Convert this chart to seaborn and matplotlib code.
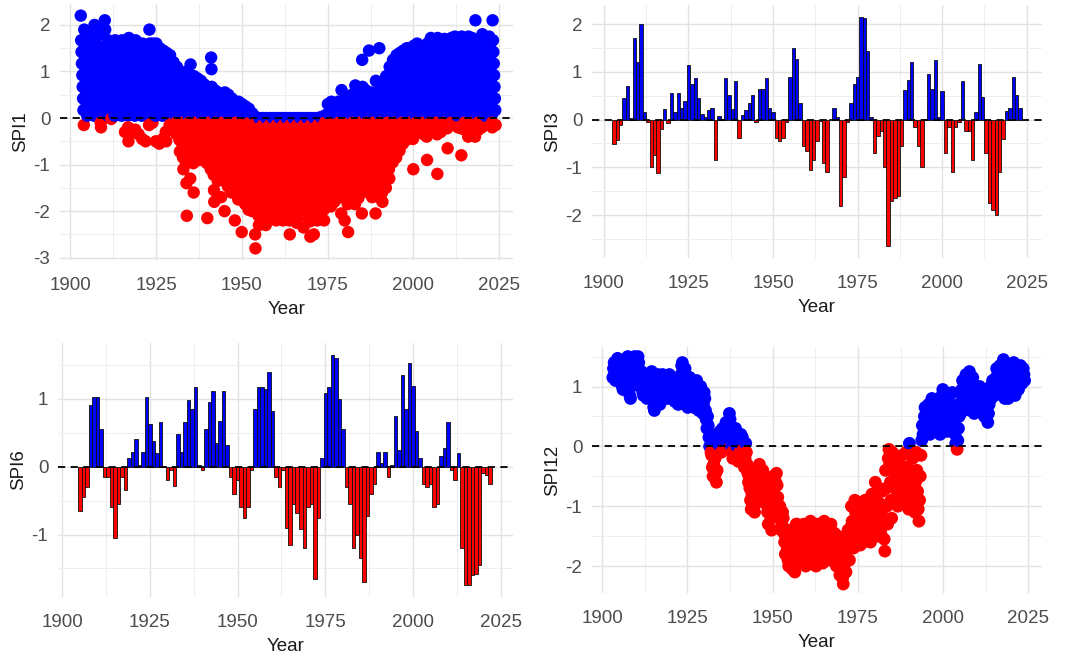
import matplotlib
matplotlib.use("Agg")
import matplotlib.pyplot as plt
from matplotlib.ticker import MultipleLocator
import seaborn as sns
import numpy as np
import pandas as pd

sns.set_theme(style="white")
plt.rcParams['font.family'] = ['Liberation Sans', 'DejaVu Sans']

POS_COL = "#0000ff"
NEG_COL = "#ff0000"

# SPI1: monthly values, grouped by year
spi1 = {
    1903: "2.2 1.67 1.42 1.17 0.92 0.67 0.42 0.17 -0.15",
    1904: "1.9 1.55 1.3 1.05 0.8 0.55 0.3 0.05",
    1905: "1.67 1.42 1.17 0.92 0.67 0.42 0.17",
    1906: "1.8 1.55 1.3 1.05 0.8 0.55 0.3 0.05",
    1907: "2.0 1.67 1.42 1.17 0.92 0.67 0.42 0.17",
    1908: "1.95 1.55 1.3 1.05 0.8 0.55 0.3 0.05 -0.1 -0.2",
    1909: "1.8 1.42 1.17 0.92 0.67 0.42 0.17",
    1910: "2.1 1.9 1.55 1.3 1.05 0.8 0.55 0.3 0.05",
    1911: "1.67 1.42 1.17 0.92 0.67 0.42 0.17 -0.02",
    1912: "1.55 1.3 1.05 0.8 0.55 0.3 0.05",
    1913: "1.67 1.42 1.17 0.92 0.67 0.42 0.17",
    1914: "1.55 1.3 1.05 0.8 0.55 0.3 0.05",
    1915: "1.67 1.42 1.17 0.92 0.67 0.42 0.17 -0.3",
    1916: "1.55 1.3 1.05 0.8 0.55 0.3 0.05 -0.2 -0.5",
    1917: "1.72 1.42 1.17 0.92 0.67 0.42 0.17 -0.3",
    1918: "1.65 1.3 1.05 0.8 0.55 0.3 0.05 -0.25",
    1919: "1.67 1.42 1.17 0.92 0.67 0.42 0.17 -0.35",
    1920: "1.55 1.3 1.05 0.8 0.55 0.3 0.05 -0.45",
    1921: "1.6 1.42 1.17 0.92 0.67 0.42 0.17 -0.5",
    1922: "1.5 1.3 1.05 0.8 0.55 0.3 0.05 -0.15",
    1923: "1.9 1.6 1.42 1.17 0.92 0.67 0.42 0.17 -0.1",
    1924: "1.6 1.3 1.05 0.8 0.55 0.3 0.05 -0.5",
    1925: "1.6 1.42 1.17 0.92 0.67 0.42 0.17 -0.55",
    1926: "1.5 1.3 1.05 0.8 0.55 0.3 0.05 -0.45",
    1927: "1.45 1.17 0.92 0.67 0.42 0.17 -0.3 -0.5",
    1928: "1.4 1.3 1.05 0.8 0.55 0.3 0.05 -0.15",
    1929: "1.35 1.17 0.92 0.67 0.42 0.17 -0.1",
    1930: "1.2 1.05 0.8 0.55 0.3 0.05 -0.1 -0.35",
    1931: "1.1 0.92 0.67 0.42 0.17 -0.22 -0.47 -0.72",
    1932: "1.0 0.8 0.55 0.3 0.05 -0.1 -0.35 -0.6 -0.85 -1.1",
    1933: "0.92 0.67 0.42 0.17 -0.22 -0.47 -0.72 -0.97 -1.4 -2.1",
    1934: "1.0 0.8 0.55 0.3 0.05 -0.1 -0.35 -0.6 -0.85 -1.3",
    1935: "1.15 0.92 0.67 0.42 0.17 -0.22 -0.47 -0.72 -0.97 -1.6",
    1936: "0.9 0.8 0.55 0.3 0.05 -0.1 -0.35 -0.6 -0.85",
    1937: "0.85 0.67 0.42 0.17 -0.22 -0.47 -0.72 -0.9",
    1938: "0.8 0.55 0.3 0.05 -0.1 -0.35 -0.6 -0.85",
    1939: "0.72 0.42 0.17 -0.22 -0.47 -0.72 -0.97 -2.15",
    1940: "0.6 0.3 0.05 -0.1 -0.35 -0.6 -0.85 -1.1",
    1941: "1.3 1.05 0.67 0.42 0.17 -0.22 -0.47 -0.72 -0.97 -1.22 -1.55 -1.8",
    1942: "0.6 0.3 0.05 -0.1 -0.35 -0.6 -0.85 -1.1 -1.35",
    1943: "0.55 0.42 0.17 -0.22 -0.47 -0.72 -0.97 -1.22 -1.7",
    1944: "0.45 0.3 0.05 -0.1 -0.35 -0.6 -0.85 -1.1 -1.35 -2.0",
    1945: "0.55 0.42 0.17 -0.22 -0.47 -0.72 -0.97 -1.22 -1.47",
    1946: "0.5 0.3 0.05 -0.1 -0.35 -0.6 -0.85 -1.1 -1.35 -1.6",
    1947: "0.42 0.17 -0.22 -0.47 -0.72 -0.97 -1.22 -1.47 -2.2",
    1948: "0.3 0.05 -0.1 -0.35 -0.6 -0.85 -1.1 -1.35 -1.6 -1.75",
    1949: "0.35 0.17 -0.22 -0.47 -0.72 -0.97 -1.22 -1.47 -1.72 -2.45",
    1950: "0.3 0.05 -0.1 -0.35 -0.6 -0.85 -1.1 -1.35 -1.6 -1.85",
    1951: "0.25 0.1 -0.22 -0.47 -0.72 -0.97 -1.22 -1.47 -1.72 -1.97",
    1952: "0.2 0.05 -0.1 -0.35 -0.6 -0.85 -1.1 -1.35 -1.6 -1.85 -2.0",
    1953: "0.1 -0.22 -0.47 -0.72 -0.97 -1.22 -1.47 -1.72 -1.97 -2.5 -2.8",
    1954: "0.02 -0.1 -0.35 -0.6 -0.85 -1.1 -1.35 -1.6 -1.85 -2.1 -2.3",
    1955: "0.0 -0.22 -0.47 -0.72 -0.97 -1.22 -1.47 -1.72 -1.97 -2.15",
    1956: "0.0 -0.15 -0.35 -0.6 -0.85 -1.1 -1.35 -1.6 -1.85 -2.1 -2.3",
    1957: "0.0 -0.22 -0.47 -0.72 -0.97 -1.22 -1.47 -1.72 -1.97",
    1958: "0.0 -0.15 -0.35 -0.6 -0.85 -1.1 -1.35 -1.6 -1.85 -2.1",
    1959: "0.0 -0.22 -0.47 -0.72 -0.97 -1.22 -1.47 -1.72 -1.97 -2.2",
    1960: "0.0 -0.15 -0.35 -0.6 -0.85 -1.1 -1.35 -1.6 -1.85 -2.1",
    1961: "0.0 -0.22 -0.47 -0.72 -0.97 -1.22 -1.47 -1.72 -1.97 -2.2",
    1962: "0.0 -0.15 -0.35 -0.6 -0.85 -1.1 -1.35 -1.6 -1.85 -2.1",
    1963: "0.0 -0.22 -0.47 -0.72 -0.97 -1.22 -1.47 -1.72 -1.97 -2.2 -2.5",
    1964: "0.0 -0.15 -0.35 -0.6 -0.85 -1.1 -1.35 -1.6 -1.85 -2.05",
    1965: "0.0 -0.22 -0.47 -0.72 -0.97 -1.22 -1.47 -1.72 -1.97 -2.25",
    1966: "0.0 -0.15 -0.35 -0.6 -0.85 -1.1 -1.35 -1.6 -1.85 -2.1",
    1967: "0.0 -0.22 -0.47 -0.72 -0.97 -1.22 -1.47 -1.72 -1.97 -2.35",
    1968: "0.0 -0.15 -0.35 -0.6 -0.85 -1.1 -1.35 -1.6 -1.85 -2.1",
    1969: "0.0 -0.22 -0.47 -0.72 -0.97 -1.22 -1.47 -1.72 -1.97 -2.22 -2.55",
    1970: "0.0 -0.15 -0.35 -0.6 -0.85 -1.1 -1.35 -1.6 -1.85 -2.1 -2.5",
    1971: "0.0 -0.22 -0.47 -0.72 -0.97 -1.22 -1.47 -1.72 -1.97 -2.2",
    1972: "0.0 -0.15 -0.35 -0.6 -0.85 -1.1 -1.35 -1.6 -1.85 -2.05",
    1973: "0.02 -0.22 -0.47 -0.72 -0.97 -1.22 -1.47 -1.72 -1.97 -2.2",
    1974: "0.05 -0.1 -0.35 -0.6 -0.85 -1.1 -1.35 -1.6 -1.85",
    1975: "0.3 0.1 -0.22 -0.47 -0.72 -0.97 -1.22 -1.47 -1.72 -1.9",
    1976: "0.35 0.05 -0.1 -0.35 -0.6 -0.85 -1.1 -1.35 -1.6 -1.8",
    1977: "0.3 0.12 -0.22 -0.47 -0.72 -0.97 -1.22 -1.47 -1.72",
    1978: "0.35 0.05 -0.1 -0.35 -0.6 -0.85 -1.1 -1.35 -1.6 -2.05",
    1979: "0.6 0.35 0.12 -0.22 -0.47 -0.72 -0.97 -1.22 -1.47 -1.72 -2.2",
    1980: "0.4 0.05 -0.1 -0.35 -0.6 -0.85 -1.1 -1.35 -1.6 -1.85 -2.45",
    1981: "0.3 0.12 -0.22 -0.47 -0.72 -0.97 -1.22 -1.47 -1.72",
    1982: "0.5 0.3 0.05 -0.1 -0.35 -0.6 -0.85 -1.1 -1.35 -1.6 -1.85",
    1983: "0.7 0.42 0.17 -0.22 -0.47 -0.72 -0.97 -1.22 -1.47 -1.72",
    1984: "0.6 0.3 0.05 -0.1 -0.35 -0.6 -0.85 -1.1 -1.35 -1.6 -2.05",
    1985: "1.25 0.67 0.42 0.17 -0.22 -0.47 -0.72 -0.97 -1.22 -1.47",
    1986: "0.6 0.3 0.05 -0.1 -0.35 -0.6 -0.85 -1.1 -1.35 -1.6",
    1987: "1.45 0.5 0.17 -0.22 -0.47 -0.72 -0.97 -1.22 -1.47 -1.7",
    1988: "0.55 0.3 0.05 -0.1 -0.35 -0.6 -0.85 -1.1 -1.35 -1.6 -2.05",
    1989: "0.8 0.42 0.17 -0.22 -0.47 -0.72 -0.97 -1.22 -1.47 -1.7",
    1990: "1.5 0.6 0.3 0.05 -0.1 -0.35 -0.6 -0.85 -1.1 -1.35 -1.6 -1.8",
    1991: "0.72 0.42 0.17 -0.22 -0.47 -0.72 -0.97 -1.22 -1.5",
    1992: "0.9 0.55 0.3 0.05 -0.1 -0.35 -0.6 -0.85 -1.1 -1.3",
    1993: "1.1 0.92 0.67 0.42 0.17 -0.22 -0.47 -0.72 -0.95",
    1994: "1.25 1.05 0.8 0.55 0.3 0.05 -0.1 -0.35 -0.6 -0.85",
    1995: "1.35 1.17 0.92 0.67 0.42 0.17 -0.22 -0.47 -0.7",
    1996: "1.4 1.3 1.05 0.8 0.55 0.3 0.05 -0.1 -0.35 -0.55",
    1997: "1.45 1.17 0.92 0.67 0.42 0.17 -0.22 -0.47",
    1998: "1.5 1.3 1.05 0.8 0.55 0.3 0.05 -0.1 -0.35",
    1999: "1.5 1.42 1.17 0.92 0.67 0.42 0.17 -0.22 -0.45 -1.1",
    2000: "1.55 1.3 1.05 0.8 0.55 0.3 0.05 -0.1 -0.3",
    2001: "1.6 1.42 1.17 0.92 0.67 0.42 0.17 -0.22",
    2002: "1.4 1.3 1.05 0.8 0.55 0.3 0.05 -0.1 -0.35",
    2003: "1.5 1.42 1.17 0.92 0.67 0.42 0.17 -0.22 -0.4 -0.9",
    2004: "1.6 1.3 1.05 0.8 0.55 0.3 0.05 -0.1 -0.3",
    2005: "1.72 1.42 1.17 0.92 0.67 0.42 0.17 -0.22",
    2006: "1.65 1.55 1.3 1.05 0.8 0.55 0.3 0.05 -0.1 -0.35 -1.2",
    2007: "1.72 1.42 1.17 0.92 0.67 0.42 0.17 -0.22 -0.3",
    2008: "1.6 1.55 1.3 1.05 0.8 0.55 0.3 0.05 -0.1",
    2009: "1.7 1.42 1.17 0.92 0.67 0.42 0.17 -0.22 -0.65",
    2010: "1.65 1.55 1.3 1.05 0.8 0.55 0.3 0.05 -0.1",
    2011: "1.72 1.42 1.17 0.92 0.67 0.42 0.17 -0.1",
    2012: "1.75 1.55 1.3 1.05 0.8 0.55 0.3 0.05 -0.2",
    2013: "1.7 1.42 1.17 0.92 0.67 0.42 0.17 -0.22 -0.8",
    2014: "1.75 1.55 1.3 1.05 0.8 0.55 0.3 0.05 -0.1 -0.25",
    2015: "1.72 1.42 1.17 0.92 0.67 0.42 0.17 -0.22 -0.4",
    2016: "1.75 1.55 1.3 1.05 0.8 0.55 0.3 0.05 -0.1 -0.3",
    2017: "1.72 1.42 1.17 0.92 0.67 0.42 0.17 -0.22 -0.4",
    2018: "2.1 1.55 1.3 1.05 0.8 0.55 0.3 0.05 -0.1 -0.25",
    2019: "1.6 1.42 1.17 0.92 0.67 0.42 0.17 -0.2",
    2020: "1.8 1.55 1.3 1.05 0.8 0.55 0.3 0.05",
    2021: "1.72 1.42 1.17 0.92 0.67 0.42 0.17",
    2022: "1.75 1.55 1.3 1.05 0.8 0.55 0.3 0.05 -0.1 -0.2",
    2023: "2.1 1.67 1.42 1.17 0.92 0.67 0.42 0.17 -0.15",
}

# SPI12: values, grouped by year
spi12 = {
    1903: "1.15 1.3 1.4 1.25 1.1", 1904: "1.2 1.35 1.47 1.3 1.15",
    1905: "1.1 1.25 1.35 1.2 1.0", 1906: "0.95 1.1 1.3 1.45 1.3",
    1907: "1.2 1.4 1.5 1.3 1.0", 1908: "0.85 0.8 1.0 1.2 1.35",
    1909: "1.3 1.45 1.5 1.35 1.2", 1910: "1.1 1.3 1.5 1.4 1.2",
    1911: "1.0 1.15 1.25 1.1 0.9", 1912: "0.85 1.0 1.15 1.05 0.9",
    1913: "0.8 0.95 1.1 1.2 1.0", 1914: "0.9 1.05 1.25 1.1 0.8",
    1915: "0.65 0.6 0.8 1.0 1.15", 1916: "1.0 1.2 1.05 0.85 0.7",
    1917: "0.75 0.9 1.05 1.2 1.1", 1918: "0.9 1.05 1.15 1.0 0.85",
    1919: "0.8 0.95 1.1 1.2 1.05", 1920: "0.9 0.8 0.95 1.1 1.0",
    1921: "0.85 0.75 0.9 1.05 0.95", 1922: "0.8 0.7 0.85 1.0 1.1",
    1923: "1.2 1.35 1.4 1.25 1.1", 1924: "1.0 1.3 1.2 0.9 0.7",
    1925: "0.65 0.8 1.0 1.15 1.05", 1926: "0.9 1.05 1.0 0.8 0.65",
    1927: "0.7 0.85 1.0 1.1 0.9", 1928: "0.75 0.6 0.8 0.95 1.0",
    1929: "0.85 0.7 0.55 0.7 0.9", 1930: "0.8 0.6 0.45 0.3 0.5",
    1931: "0.35 0.15 0.0 0.2 -0.1", 1932: "-0.15 -0.35 -0.5 -0.3 0.1",
    1933: "-0.2 -0.45 -0.6 -0.4 0.05", 1934: "0.2 0.1 0.25 0.0 -0.1",
    1935: "0.15 0.3 0.2 -0.05 0.1", 1936: "0.25 0.4 0.3 0.1 -0.05",
    1937: "0.35 0.55 0.45 0.2 0.0", 1938: "-0.1 -0.2 0.1 0.25 0.15",
    1939: "0.3 0.2 0.0 -0.15 -0.25", 1940: "-0.2 -0.1 0.05 0.2 0.1",
    1941: "0.15 -0.05 -0.25 -0.35 -0.2", 1942: "0.05 -0.1 -0.3 -0.45 -0.6",
    1943: "-0.5 -0.7 -0.9 -1.05 -0.8", 1944: "-0.6 -0.8 -1.0 -1.1 -0.9",
    1945: "-0.65 -0.5 -0.4 -0.6 -0.8", 1946: "-0.3 -0.45 -0.6 -0.75 -0.55",
    1947: "-0.4 -0.6 -0.8 -0.95 -0.7", 1948: "-0.65 -0.85 -1.1 -1.3 -1.0",
    1949: "-0.8 -1.0 -1.2 -1.4 -1.1", 1950: "-0.5 -0.7 -0.9 -1.1 -0.6",
    1951: "-0.45 -0.65 -0.85 -1.0 -1.2", 1952: "-1.0 -1.2 -1.4 -1.3 -1.1",
    1953: "-1.2 -1.45 -1.6 -1.8 -1.5", 1954: "-1.5 -1.7 -1.9 -2.0 -1.6",
    1955: "-1.4 -1.6 -1.85 -2.05 -1.7", 1956: "-1.5 -1.8 -2.1 -1.9 -1.3",
    1957: "-1.3 -1.5 -1.7 -1.9 -1.6", 1958: "-1.35 -1.55 -1.75 -1.95 -1.7",
    1959: "-1.3 -1.5 -1.8 -2.0 -1.6", 1960: "-1.4 -1.6 -1.85 -1.7 -1.5",
    1961: "-1.25 -1.45 -1.65 -1.9 -1.7", 1962: "-1.35 -1.55 -1.8 -2.0 -1.6",
    1963: "-1.3 -1.5 -1.7 -1.9 -1.55", 1964: "-1.4 -1.6 -1.8 -1.95 -1.7",
    1965: "-1.25 -1.45 -1.65 -1.85 -1.6", 1966: "-1.35 -1.55 -1.75 -1.9 -1.6",
    1967: "-1.3 -1.5 -1.7 -1.85 -1.65", 1968: "-1.45 -1.65 -1.85 -2.0 -1.7",
    1969: "-1.5 -1.75 -1.95 -2.15 -1.9", 1970: "-1.7 -1.95 -2.2 -2.3 -2.0",
    1971: "-1.6 -1.85 -2.1 -1.9 -1.5", 1972: "-1.4 -1.65 -1.9 -1.7 -1.35",
    1973: "-1.0 -1.25 -1.5 -1.7 -1.3", 1974: "-0.9 -1.1 -1.35 -1.55 -1.2",
    1975: "-0.95 -1.15 -1.4 -1.65 -1.3", 1976: "-1.0 -1.2 -1.45 -1.6 -1.3",
    1977: "-0.9 -1.1 -1.3 -1.5 -1.2", 1978: "-1.0 -1.25 -1.45 -1.6 -1.35",
    1979: "-0.8 -1.0 -1.2 -1.45 -1.1", 1980: "-0.6 -0.8 -1.05 -1.3 -1.5",
    1981: "-0.7 -0.95 -1.2 -1.45 -1.1", 1982: "-0.75 -1.0 -1.3 -1.55 -1.75",
    1983: "-0.4 -0.7 -1.0 -1.3 -0.2", 1984: "-0.05 -0.3 -0.6 -0.9 -1.2",
    1985: "-0.1 -0.35 -0.65 -0.95 -0.5", 1986: "-0.2 -0.45 -0.75 -1.0 -0.3",
    1987: "-0.3 -0.55 -0.8 -0.5 -0.15", 1988: "-0.5 -0.75 -0.95 -0.7 -0.4",
    1989: "-0.1 -0.35 -0.6 -0.85 -1.05", 1990: "0.05 -0.15 -0.4 -0.7 -1.0",
    1991: "-0.2 -0.5 -0.8 -1.1 -0.6", 1992: "-0.1 -0.4 -0.75 -1.05 -1.25",
    1993: "-0.9 -0.5 -0.15 0.1 0.35", 1994: "0.2 0.35 0.5 0.65 0.45",
    1995: "0.25 0.4 0.55 0.7 0.5", 1996: "0.2 0.35 0.5 0.8 0.6",
    1997: "0.25 0.45 0.6 0.75 0.55", 1998: "0.3 0.45 0.65 0.8 0.6",
    1999: "0.2 0.4 0.6 0.85 0.95", 2000: "0.3 0.5 0.7 0.9 0.75",
    2001: "0.25 0.45 0.65 0.85 0.6", 2002: "0.3 0.5 0.7 0.9 0.65",
    2003: "0.6 0.4 0.2 0.05 0.3", 2004: "-0.05 0.1 0.3 0.5 0.6",
    2005: "0.55 0.75 0.95 1.1 0.8", 2006: "0.6 0.8 1.0 1.2 0.9",
    2007: "0.7 0.9 1.1 1.25 1.0", 2008: "0.6 0.8 1.0 1.15 0.85",
    2009: "0.55 0.7 0.85 1.0 0.75", 2010: "0.6 0.75 0.9 1.0 0.8",
    2011: "0.65 0.8 0.95 0.85 0.7", 2012: "0.5 0.65 0.8 0.95 0.7",
    2013: "0.4 0.55 0.7 0.85 1.0", 2014: "0.8 0.95 1.1 1.0 0.85",
    2015: "0.85 1.0 1.15 1.3 1.1", 2016: "0.9 1.05 1.2 1.35 1.15",
    2017: "0.95 1.15 1.3 1.45 1.2", 2018: "0.8 0.95 1.1 1.25 1.0",
    2019: "0.8 0.9 1.05 1.2 1.35", 2020: "1.0 1.15 1.3 1.4 1.2",
    2021: "0.85 1.0 1.15 1.3 1.1", 2022: "0.95 1.1 1.25 1.35 1.2",
    2023: "1.05 1.15 1.3 1.2 1.1",
}

# SPI3 yearly bars
spi3_years = list(range(1903, 2024))
spi3_vals = [
    -0.52, -0.42, -0.12, 0.45, 0.7, 0.03, 1.7, 1.2, 2.0, 0.15,        # 1903-1912
    -0.05, -1.0, -0.75, -1.12, -0.2, 0.22, -0.08, 0.55, 0.15, 0.55,   # 1913-1922
    0.25, 0.38, 1.15, 0.75, 0.88, 0.45, 0.12, 0.05, 0.2, 0.25,        # 1923-1932
    -0.85, 0.08, 0.02, 0.87, 0.52, 0.22, 0.8, -0.38, 0.1, 0.2,        # 1933-1942
    0.35, 0.52, -0.05, 0.65, 0.65, 0.87, 0.25, 0.15, -0.38, -0.45,    # 1943-1952
    -0.38, -0.05, 0.9, 1.5, 1.27, 0.35, -0.55, -0.65, -1.05, -0.85,   # 1953-1962
    -0.45, -0.02, -0.9, -1.1, 0.02, 0.25, 0.05, -1.82, -1.2, -0.05,   # 1963-1972
    0.35, 0.75, 0.9, 2.15, 2.12, 1.43, 0.05, -0.7, -0.35, -0.25,      # 1973-1982
    -1.0, -2.65, -1.7, -1.65, -1.6, -0.55, 0.62, 0.82, 1.2, -0.15,    # 1983-1992
    -0.55, -1.0, 0.02, 0.95, 0.65, 1.25, 0.05, 0.6, -0.7, -0.15,      # 1993-2002
    -1.1, -0.15, -0.05, 0.8, -0.25, -0.25, -0.85, 0.15, 1.17, 0.48,   # 2003-2012
    -0.7, -1.75, -1.9, -2.0, -1.1, -0.4, 0.18, 0.25, 0.9, 0.52,       # 2013-2022
    0.25,                                                             # 2023
]

# SPI6 yearly bars
spi6_years = list(range(1905, 2023))
spi6_vals = [
    -0.65, -0.45, -0.3, 0.9, 1.02, 1.02, 0.55, -0.15, -0.15, -0.6,    # 1905-1914
    -1.05, -0.55, -0.15, -0.35, 0.12, 0.22, 0.4, 0.02, 0.22, 1.03,    # 1915-1924
    0.62, 0.38, 0.2, 0.65, 0.01, -0.2, -0.05, -0.28, 0.48, 0.22,      # 1925-1934
    0.65, 0.98, 0.85, 1.17, 0.02, -0.05, 0.55, 0.95, 1.12, 0.35,      # 1935-1944
    0.67, 1.12, 0.32, -0.15, -0.4, -0.2, -0.6, -0.75, -0.6, -0.05,    # 1945-1954
    0.85, 1.17, 1.17, 1.15, 1.4, 0.82, -0.15, -0.3, -0.05, -0.9,      # 1955-1964
    -1.15, -0.55, -0.68, -0.92, -1.2, -0.6, -0.55, -1.65, -0.75, 0.12,  # 1965-1974
    1.08, 1.17, 1.65, 1.6, 1.0, 0.55, -0.3, -0.55, -1.2, -1.0,        # 1975-1984
    -1.35, -1.7, -0.72, -0.4, -0.25, 0.22, 0.05, 0.22, -0.15, 0.02,   # 1985-1994
    0.75, 0.25, 1.35, 0.85, 1.53, 1.18, 0.52, 0.12, -0.25, -0.3,      # 1995-2004
    -0.25, -0.6, -0.55, 0.15, 0.27, 0.65, -0.05, -0.2, 0.2, -1.2,     # 2005-2014
    -1.75, -1.75, -1.6, -1.58, -1.45, -0.1, -0.12, -0.25,             # 2015-2022
]


def points_frame(by_year):
    rows = []
    for yr, s in by_year.items():
        vals = [float(t) for t in s.split()]
        for i, v in enumerate(vals):
            rows.append((yr + (i + 0.5) / len(vals), v))
    df = pd.DataFrame(rows, columns=["Year", "SPI"])
    df["sign"] = np.where(df["SPI"] >= 0, "pos", "neg")
    return df


def bar_frame(years, vals):
    df = pd.DataFrame({"Year": years, "SPI": vals})
    df["sign"] = np.where(df["SPI"] >= 0, "pos", "neg")
    return df


pal = {"pos": POS_COL, "neg": NEG_COL}


def style(ax, ylabel, xlim, ylim, ymajor):
    ax.set_xlim(*xlim)
    ax.set_ylim(*ylim)
    ax.xaxis.set_major_locator(MultipleLocator(25))
    ax.xaxis.set_minor_locator(MultipleLocator(12.5))
    ax.yaxis.set_major_locator(MultipleLocator(ymajor))
    ax.yaxis.set_minor_locator(MultipleLocator(ymajor / 2))
    ax.grid(which="major", color="#e2e2e2", lw=1.0)
    ax.grid(which="minor", color="#eeeeee", lw=0.7)
    ax.set_axisbelow(True)
    for sp in ax.spines.values():
        sp.set_visible(False)
    ax.tick_params(axis="both", which="both", length=0, labelsize=13.5,
                   labelcolor="#4d4d4d")
    ax.tick_params(axis="x", pad=12)
    ax.tick_params(axis="y", pad=7)
    ax.set_xlabel("Year", fontsize=13.5, color="#1a1a1a", labelpad=5)
    ax.set_ylabel(ylabel, fontsize=13.5, color="#1a1a1a", labelpad=3)
    ax.axhline(0, color="black", lw=1.3, ls=(0, (4, 3)), zorder=5)
    ax.yaxis.set_major_formatter(lambda v, p: f"{v:g}")


W, H = 1067, 659
fig = plt.figure(figsize=(W / 100, H / 100), dpi=100)


def add_ax(l, r, t, b):
    return fig.add_axes([l / W, 1 - b / H, (r - l) / W, (b - t) / H])


def scatter(ax, data, size):
    sns.scatterplot(data=points_frame(data), x="Year", y="SPI", hue="sign",
                    palette=pal, s=size, linewidth=0, legend=False, ax=ax)


def bars(ax, years, vals):
    sns.barplot(data=bar_frame(years, vals), x="Year", y="SPI", hue="sign",
                palette=pal, saturation=1, native_scale=True, dodge=False,
                errorbar=None, width=1, edgecolor="#111111", linewidth=0.6,
                legend=False, ax=ax)


# SPI1 scatter
ax1 = add_ax(60, 513, 4, 260)
scatter(ax1, spi1, 80)
style(ax1, "SPI1", (1897, 2029), (-3.05, 2.45), 1)

# SPI3 bars
ax2 = add_ax(592, 1042, 5, 258)
bars(ax2, spi3_years, spi3_vals)
style(ax2, "SPI3", (1896.5, 2029.5), (-2.9, 2.4), 1)

# SPI6 bars
ax3 = add_ax(58, 513, 343, 597)
bars(ax3, spi6_years, spi6_vals)
style(ax3, "SPI6", (1898.8, 2028.5), (-1.92, 1.82), 1)

# SPI12 scatter
ax4 = add_ax(592, 1042, 347, 593)
scatter(ax4, spi12, 85)
style(ax4, "SPI12", (1897, 2029), (-2.45, 1.66), 1)

fig.savefig("out.png", dpi=100)
